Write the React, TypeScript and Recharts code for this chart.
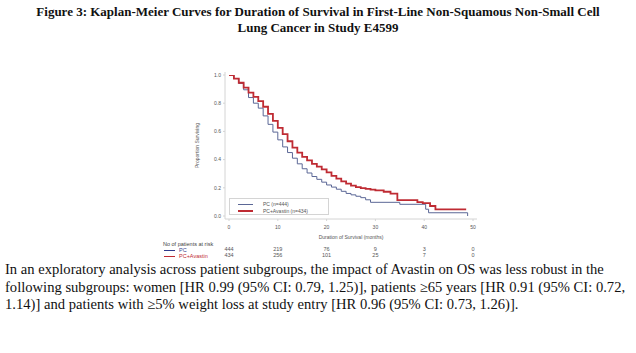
import React from 'react';
import { LineChart, Line, XAxis, YAxis, Legend, ReferenceArea } from 'recharts';

// Kaplan-Meier step points (months, proportion surviving)
const pcMonths = [0, 1, 2, 3, 4, 5, 6, 7, 8, 9, 10, 11, 12, 13, 14, 15, 16, 17, 18, 19, 20, 21, 22, 23, 24, 25, 26, 27, 28, 29, 35, 40.3, 40.9, 48.9];
const pcSurvival = [1.0, 0.975, 0.94, 0.895, 0.84, 0.8, 0.765, 0.71, 0.65, 0.595, 0.54, 0.49, 0.45, 0.41, 0.37, 0.335, 0.305, 0.28, 0.26, 0.24, 0.22, 0.205, 0.19, 0.175, 0.16, 0.15, 0.14, 0.13, 0.115, 0.097, 0.083, 0.048, 0.023, 0.0];

const avMonths = [0, 1, 2, 3, 4, 5, 6, 7, 8, 9, 10, 11, 12, 13, 14, 15, 16, 17, 18, 19, 20, 21, 22, 23, 24, 25, 26, 27, 28, 29, 30, 31.7, 33.1, 34.5, 38.6, 39.7, 41.2, 42.3, 48.6];
const avSurvival = [1.0, 0.975, 0.945, 0.91, 0.875, 0.845, 0.815, 0.775, 0.725, 0.675, 0.625, 0.58, 0.53, 0.485, 0.45, 0.42, 0.395, 0.37, 0.35, 0.33, 0.31, 0.285, 0.265, 0.245, 0.23, 0.215, 0.205, 0.198, 0.192, 0.187, 0.182, 0.172, 0.158, 0.113, 0.099, 0.092, 0.071, 0.047, 0.047];

const monthTicks = [0, 10, 20, 30, 40, 50];
const survivalTicks = [0, 0.2, 0.4, 0.6, 0.8, 1.0];
const pcAtRisk = [444, 219, 76, 9, 3, 0];
const avAtRisk = [434, 256, 101, 25, 7, 0];

const pcData = pcMonths.map((t, i) => ({ t, p: pcSurvival[i] }));
const avData = avMonths.map((t, i) => ({ t, p: avSurvival[i] }));

const PC_COLOR = '#5b6796';
const AV_COLOR = '#bf2b33';
const FRAME = '#d4d4d4';
const SANS = '"Liberation Sans", Arial, sans-serif';
const SERIF = '"Liberation Serif", "Times New Roman", serif';

const tickStyle = { fontSize: 5, fill: '#555', fontFamily: SANS };

// month tick plus the two at-risk counts beneath it, all on the x scale
const MonthTick = (props: any) => {
  const { x, y, payload } = props;
  const i = monthTicks.indexOf(payload.value);
  return (
    <g fontFamily={SANS} textAnchor="middle" fill="#555">
      <text x={x} y={y} dy="0.71em" fontSize={5}>{payload.value}</text>
      <text x={x} y={y + 22.5} dy="0.71em" fontSize={5.5}>{pcAtRisk[i]}</text>
      <text x={x} y={y + 28.5} dy="0.71em" fontSize={5.5}>{avAtRisk[i]}</text>
    </g>
  );
};

const LegendBox = () => (
  <div style={{ width: 100, height: 17, border: `1px solid ${FRAME}`, boxSizing: 'border-box', fontFamily: SANS, fontSize: 5, color: '#555', background: '#fff' }}>
    <div style={{ display: 'flex', alignItems: 'center', height: 7, marginTop: 1.5 }}>
      <span style={{ display: 'inline-block', width: 15, height: 0, borderTop: `1px solid ${PC_COLOR}`, marginLeft: 8, marginRight: 10 }} />
      <span>PC (n=444)</span>
    </div>
    <div style={{ display: 'flex', alignItems: 'center', height: 7 }}>
      <span style={{ display: 'inline-block', width: 15, height: 0, borderTop: `2px solid ${AV_COLOR}`, marginLeft: 8, marginRight: 10 }} />
      <span>PC+Avastin (n=434)</span>
    </div>
  </div>
);

export default function App() {
  return (
    <div style={{ position: 'absolute', left: 0, top: 0, width: 636, height: 353, background: '#fff', overflow: 'hidden' }}>
      <div style={{ position: 'absolute', left: 0, top: 4, width: 636, textAlign: 'center', fontFamily: SERIF, fontWeight: 'bold', fontSize: 13, lineHeight: '16px', color: '#111' }}>
        <div style={{ whiteSpace: 'nowrap' }}>Figure 3: Kaplan-Meier Curves for Duration of Survival in First-Line Non-Squamous Non-Small Cell</div>
        <div style={{ whiteSpace: 'nowrap' }}>Lung Cancer in Study E4599</div>
      </div>

      <div style={{ position: 'absolute', left: 0, top: 0 }}>
        <LineChart width={636} height={270} margin={{ top: 72, right: 159, left: 200, bottom: 22 }}>
          <XAxis xAxisId="main" dataKey="t" type="number" domain={[0, 50]} ticks={monthTicks} allowDataOverflow
            padding={{ left: 4, right: 4 }} height={29} stroke={FRAME} tickSize={2} tickMargin={4} tick={<MonthTick />}
            label={{ value: 'Duration of Survival (months)', position: 'insideBottom', offset: 9, style: tickStyle }} />
          <YAxis yAxisId="main" type="number" domain={[0, 1]} ticks={survivalTicks} allowDataOverflow
            padding={{ top: 3, bottom: 3 }} width={25} stroke={FRAME} tickSize={2} tickMargin={2} tick={tickStyle}
            tickFormatter={(v: number) => v.toFixed(1)}
            label={{ value: 'Proportion Surviving', angle: -90, position: 'insideLeft', offset: -3, style: { ...tickStyle, textAnchor: 'middle' } }} />
          <ReferenceArea xAxisId="main" yAxisId="main" fill="none" stroke={FRAME} strokeWidth={1} ifOverflow="visible" />
          <Legend layout="vertical" align="center" verticalAlign="middle" content={() => <LegendBox />}
            wrapperStyle={{ position: 'absolute', left: 229, top: 198, width: 100, height: 17 }} />
          <Line xAxisId="main" yAxisId="main" data={pcData} dataKey="p" type="stepAfter" stroke={PC_COLOR} strokeWidth={1} dot={false} isAnimationActive={false} />
          <Line xAxisId="main" yAxisId="main" data={avData} dataKey="p" type="stepAfter" stroke={AV_COLOR} strokeWidth={1.8} dot={false} isAnimationActive={false} />
        </LineChart>
      </div>

      <div style={{ position: 'absolute', left: 163, top: 241, fontFamily: SANS, fontSize: 5.5, color: '#444', whiteSpace: 'nowrap' }}>No of patients at risk</div>
      <div style={{ position: 'absolute', left: 164, top: 247, display: 'flex', alignItems: 'center', fontFamily: SANS, fontSize: 5.5, color: '#3a4590', whiteSpace: 'nowrap', height: 6 }}>
        <span style={{ display: 'inline-block', width: 11, borderTop: '1px solid #2e3a8c', marginRight: 4 }} />PC
      </div>
      <div style={{ position: 'absolute', left: 164, top: 253, display: 'flex', alignItems: 'center', fontFamily: SANS, fontSize: 5.5, color: AV_COLOR, whiteSpace: 'nowrap', height: 6 }}>
        <span style={{ display: 'inline-block', width: 11, borderTop: `1px solid ${AV_COLOR}`, marginRight: 4 }} />PC+Avastin
      </div>

      <div style={{ position: 'absolute', left: 5, top: 261, fontFamily: SERIF, fontSize: 14.6, lineHeight: '17.5px', color: '#111' }}>
        <div style={{ whiteSpace: 'nowrap' }}>In an exploratory analysis across patient subgroups, the impact of Avastin on OS was less robust in the</div>
        <div style={{ whiteSpace: 'nowrap' }}>following subgroups: women [HR 0.99 (95% CI: 0.79, 1.25)], patients ≥65 years [HR 0.91 (95% CI: 0.72,</div>
        <div style={{ whiteSpace: 'nowrap' }}>1.14)] and patients with ≥5% weight loss at study entry [HR 0.96 (95% CI: 0.73, 1.26)].</div>
      </div>
    </div>
  );
}
